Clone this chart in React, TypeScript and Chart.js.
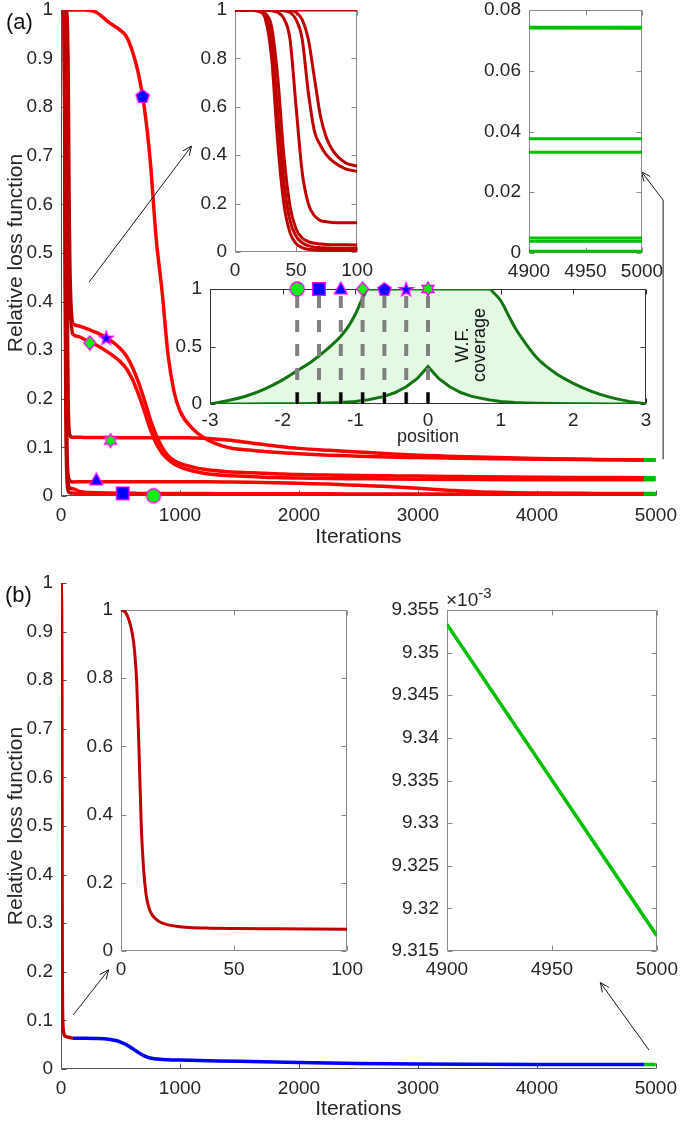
import React, { useEffect, useRef } from "react";
import { Chart, registerables } from "chart.js";

Chart.register(...registerables);

const FONT = "'Liberation Sans', Arial, Helvetica, sans-serif";
const TXT = "#262626";
const RED = "#ff0000";
const DARK_RED = "#bf0000";
const GREEN = "#00bf00";
const BLUE = "#0000ff";
const MK_GREEN = "#00ff00";
const MK_BLUE = "#0000ff";
const COV_LINE = "#127512";
const COV_FILL = "#e4f8e4";
const TICK_SIZE = 19;
const TITLE_SIZE = 21;

// ---------- Panel (a): seven runs ----------
const ITER_EARLY = [0, 10, 20, 25, 30, 35, 40, 45, 50, 55, 60, 65, 70, 75, 80, 90, 100];
const ITER_LATE = [100, 150, 200, 250, 300, 400, 500, 550, 600, 650, 700, 750, 800, 850, 900, 950, 1000, 1100, 1200, 1400, 1600, 1800, 2000, 2250, 2500, 2750, 3000, 3250, 3500, 4000, 4500, 4900];
const ITER_TAIL = [4900, 5000];

const P_EARLY = [1, 1, 1, 1, 1, 1, 1, 1, 1, 1, 1, 1, 1, 1, 1, 1, 1];
const H_EARLY = [1, 1, 1, 0.999, 0.997, 0.99, 0.965, 0.88, 0.6, 0.33, 0.2, 0.15, 0.13, 0.125, 0.122, 0.121, 0.121];
const S_EARLY = [1, 1, 1, 1, 1, 1, 1, 0.998, 0.99, 0.96, 0.88, 0.72, 0.56, 0.47, 0.42, 0.37, 0.355];
const D_EARLY = [1, 1, 1, 1, 1, 0.999, 0.997, 0.99, 0.96, 0.88, 0.66, 0.5, 0.44, 0.4, 0.375, 0.345, 0.333];
const T_EARLY = [1, 1, 0.998, 0.985, 0.93, 0.72, 0.4, 0.19, 0.095, 0.058, 0.043, 0.036, 0.033, 0.031, 0.03, 0.0295, 0.029];
const SQ_EARLY = [1, 1, 0.996, 0.975, 0.87, 0.58, 0.29, 0.13, 0.065, 0.038, 0.026, 0.02, 0.018, 0.017, 0.016, 0.015, 0.015];
const C_EARLY = [1, 1, 0.993, 0.96, 0.8, 0.45, 0.2, 0.08, 0.035, 0.018, 0.011, 0.008, 0.007, 0.0065, 0.0062, 0.006, 0.006];

const P_LATE = [1, 1, 1, 0.999, 0.995, 0.975, 0.958, 0.945, 0.915, 0.87, 0.8, 0.69, 0.53, 0.42, 0.29, 0.215, 0.175, 0.14, 0.12, 0.1, 0.094, 0.09, 0.087, 0.084, 0.082, 0.08, 0.079, 0.078, 0.077, 0.0755, 0.0748, 0.0743];
const H_LATE = [0.121, 0.1208, 0.1206, 0.1205, 0.1204, 0.1202, 0.12, 0.12, 0.12, 0.12, 0.12, 0.12, 0.12, 0.12, 0.12, 0.12, 0.12, 0.1195, 0.119, 0.115, 0.109, 0.103, 0.098, 0.094, 0.0905, 0.087, 0.084, 0.082, 0.08, 0.077, 0.0752, 0.0741];
const S_LATE = [0.355, 0.35, 0.346, 0.341, 0.336, 0.323, 0.303, 0.288, 0.265, 0.235, 0.198, 0.158, 0.125, 0.1, 0.083, 0.073, 0.067, 0.06, 0.055, 0.05, 0.048, 0.046, 0.044, 0.043, 0.042, 0.0415, 0.041, 0.0403, 0.0395, 0.0385, 0.038, 0.0376];
const D_LATE = [0.333, 0.328, 0.322, 0.316, 0.31, 0.295, 0.276, 0.262, 0.24, 0.21, 0.175, 0.138, 0.108, 0.088, 0.075, 0.066, 0.06, 0.052, 0.047, 0.042, 0.04, 0.038, 0.037, 0.036, 0.0355, 0.035, 0.0345, 0.034, 0.0337, 0.0335, 0.0333, 0.0332];
const T_LATE = [0.029, 0.0292, 0.0294, 0.0295, 0.0295, 0.0295, 0.0295, 0.0295, 0.0295, 0.0295, 0.0295, 0.0295, 0.0295, 0.0295, 0.0295, 0.0295, 0.0295, 0.0294, 0.0293, 0.029, 0.0285, 0.0275, 0.026, 0.0245, 0.022, 0.0195, 0.016, 0.012, 0.0085, 0.006, 0.0053, 0.00495];
const SQ_LATE = [0.015, 0.01, 0.008, 0.007, 0.0065, 0.006, 0.0057, 0.0056, 0.0055, 0.0054, 0.0053, 0.0052, 0.0052, 0.0051, 0.0051, 0.005, 0.005, 0.0049, 0.0049, 0.0048, 0.0047, 0.0046, 0.0045, 0.0044, 0.0043, 0.0043, 0.0042, 0.0041, 0.0041, 0.004, 0.0039, 0.00385];
const C_LATE = [0.006, 0.0035, 0.0025, 0.002, 0.0018, 0.0015, 0.0013, 0.0012, 0.0012, 0.0011, 0.0011, 0.001, 0.001, 0.001, 0.0009, 0.0009, 0.0009, 0.0008, 0.0008, 0.0008, 0.0007, 0.0007, 0.0007, 0.0006, 0.0006, 0.0006, 0.0006, 0.0006, 0.00055, 0.00055, 0.00055, 0.00055];

const P_TAIL = [0.0743, 0.0743];
const H_TAIL = [0.0741, 0.074];
const S_TAIL = [0.0376, 0.0376];
const D_TAIL = [0.0332, 0.0332];
const T_TAIL = [0.00495, 0.00495];
const SQ_TAIL = [0.00385, 0.00385];
const C_TAIL = [0.00055, 0.00055];

const MARK_A_ITER = [686, 380, 242, 417, 297, 519, 778];
const MARK_A_VAL = [0.823, 0.326, 0.315, 0.114, 0.033, 0.0055, 0.0006];
const MARK_A_SHAPE = ["pentagon", "star", "diamond", "hexagram", "triangle", "square", "circle"];
const MARK_A_FILL = [MK_BLUE, MK_BLUE, MK_GREEN, MK_GREEN, MK_BLUE, MK_BLUE, MK_GREEN];

// ---------- coverage inset ----------
const COV_X = [-3, -2.75, -2.5, -2.25, -2, -1.8, -1.6, -1.4, -1.2, -1.1, -1, -0.9, -0.82, -0.6, -0.45, -0.3, -0.15, 0, 0.15, 0.3, 0.45, 0.6, 0.85, 0.9, 1, 1.1, 1.2, 1.35, 1.5, 1.75, 2, 2.25, 2.5, 2.75, 3];
const COV_OUTER = [0, 0.03, 0.07, 0.13, 0.21, 0.29, 0.37, 0.47, 0.59, 0.67, 0.78, 0.92, 1, 1, 1, 1, 1, 1, 1, 1, 1, 1, 1, 0.97, 0.9, 0.78, 0.66, 0.52, 0.4, 0.27, 0.18, 0.11, 0.06, 0.025, 0];
const COV_INNER = [0, 0.0005, 0.001, 0.0015, 0.002, 0.003, 0.005, 0.008, 0.013, 0.017, 0.022, 0.03, 0.037, 0.066, 0.1, 0.15, 0.22, 0.327, 0.22, 0.15, 0.1, 0.066, 0.034, 0.03, 0.022, 0.017, 0.013, 0.0095, 0.007, 0.004, 0.002, 0.0015, 0.001, 0.0005, 0];
const COV_MARK_POS = [-1.8, -1.5, -1.2, -0.9, -0.6, -0.3, 0];
const COV_MARK_SHAPE = ["circle", "square", "triangle", "diamond", "pentagon", "star", "hexagram"];
const COV_MARK_FILL = [MK_GREEN, MK_BLUE, MK_BLUE, MK_GREEN, MK_BLUE, MK_BLUE, MK_GREEN];

// ---------- Panel (b) ----------
const B_EARLY_X = [0, 2, 4, 5, 6, 7, 8, 9, 10, 11, 12, 13, 15, 17, 20, 25, 30, 40, 50, 70, 100];
const B_EARLY_Y = [1, 0.993, 0.96, 0.93, 0.88, 0.78, 0.58, 0.36, 0.24, 0.17, 0.135, 0.115, 0.096, 0.086, 0.078, 0.072, 0.069, 0.067, 0.066, 0.065, 0.0635];
const B_LATE_X = [100, 200, 300, 400, 450, 500, 550, 600, 650, 700, 750, 800, 900, 1000, 1500, 2000, 2500, 3000, 3500, 4000, 4500, 4900];
const B_LATE_Y = [0.0635, 0.0632, 0.0627, 0.0612, 0.059, 0.0555, 0.05, 0.042, 0.034, 0.027, 0.0225, 0.0205, 0.019, 0.0183, 0.0158, 0.0132, 0.0112, 0.0101, 0.0097, 0.0095, 0.0094, 0.0093533];
const B_TAIL_X = [4900, 5000];
const B_TAIL_Y = [0.0093533, 0.0093168];

// ---------- ticks ----------
const MAIN_X_TICKS = [0, 1000, 2000, 3000, 4000, 5000];
const MAIN_X_LABELS = ["0", "1000", "2000", "3000", "4000", "5000"];
const MAIN_Y_TICKS = [0, 0.1, 0.2, 0.3, 0.4, 0.5, 0.6, 0.7, 0.8, 0.9, 1];
const MAIN_Y_LABELS = ["0", "0.1", "0.2", "0.3", "0.4", "0.5", "0.6", "0.7", "0.8", "0.9", "1"];
const EARLY_X_TICKS = [0, 50, 100];
const EARLY_X_LABELS = ["0", "50", "100"];
const UNIT_Y_TICKS = [0, 0.2, 0.4, 0.6, 0.8, 1];
const UNIT_Y_LABELS = ["0", "0.2", "0.4", "0.6", "0.8", "1"];
const TAIL_X_TICKS = [4900, 4950, 5000];
const TAIL_X_LABELS = ["4900", "4950", "5000"];
const A_TAIL_Y_TICKS = [0, 0.02, 0.04, 0.06, 0.08];
const A_TAIL_Y_LABELS = ["0", "0.02", "0.04", "0.06", "0.08"];
const COV_X_TICKS = [-3, -2, -1, 0, 1, 2, 3];
const COV_X_LABELS = ["-3", "-2", "-1", "0", "1", "2", "3"];
const COV_Y_TICKS = [0, 0.5, 1];
const COV_Y_LABELS = ["0", "0.5", "1"];
const B_TAIL_Y_TICKS = [0.009315, 0.00932, 0.009325, 0.00933, 0.009335, 0.00934, 0.009345, 0.00935, 0.009355];
const B_TAIL_Y_LABELS = ["9.315", "9.32", "9.325", "9.33", "9.335", "9.34", "9.345", "9.35", "9.355"];

// ---------- arrows (data coordinates of the host axes) ----------
const ARROW_A1 = [[236, 0.44], [1097, 0.72]];
const ARROW_A2 = [[5061, 0.0755], [5061, 0.609], [4880, 0.667]];
const ARROW_B1 = [[102, 0.111], [400, 0.204]];
const ARROW_B2 = [[4942, 0.039], [4533, 0.178]];

type Rect = { left: number; top: number; w: number; h: number };
type Area = { l: number; t: number; r: number; b: number };
type AxisSpec = {
  min: number; max: number; ticks: number[]; labels: string[]; pad: number;
  title?: string; titleSize?: number; titlePad?: { top: number; bottom: number };
};

function axis(spec: AxisSpec, horizontal: boolean, size: number): any {
  return {
    type: "linear",
    min: spec.min,
    max: spec.max,
    afterBuildTicks: (s: any) => { s.ticks = spec.ticks.map((v) => ({ value: v })); },
    afterFit: (s: any) => { if (horizontal) s.height = size; else s.width = size; },
    ticks: {
      autoSkip: false, maxRotation: 0, minRotation: 0, padding: spec.pad, color: TXT,
      font: { family: FONT, size: TICK_SIZE },
      callback: (v: number) => {
        const i = spec.ticks.findIndex((t) => Math.abs(t - v) < 1e-12);
        return i >= 0 ? spec.labels[i] : "";
      },
    },
    grid: { display: false, drawTicks: false },
    border: { display: false },
    title: spec.title
      ? { display: true, text: spec.title, color: TXT, font: { family: FONT, size: spec.titleSize || TITLE_SIZE }, padding: spec.titlePad || { top: 0, bottom: 0 } }
      : { display: false },
  };
}

function axesPlugin(box: boolean, color: string, len = 5) {
  return {
    id: "matAxes",
    beforeDatasetsDraw(chart: any) {
      const { ctx, chartArea: a } = chart;
      const xs = chart.scales.x, ys = chart.scales.y;
      const L = Math.round(a.left) + 0.5, R = Math.round(a.right) - 0.5;
      const T = Math.round(a.top) + 0.5, B = Math.round(a.bottom) - 0.5;
      ctx.save();
      ctx.strokeStyle = color;
      ctx.lineWidth = 1;
      ctx.beginPath();
      ctx.moveTo(L, T); ctx.lineTo(L, B); ctx.lineTo(R, B);
      if (box) { ctx.lineTo(R, T); ctx.lineTo(L, T); }
      for (const t of xs.ticks) {
        const px = Math.round(xs.getPixelForValue(t.value)) + 0.5;
        ctx.moveTo(px, B); ctx.lineTo(px, B - len);
        if (box) { ctx.moveTo(px, T); ctx.lineTo(px, T + len); }
      }
      for (const t of ys.ticks) {
        const py = Math.round(ys.getPixelForValue(t.value)) + 0.5;
        ctx.moveTo(L, py); ctx.lineTo(L + len, py);
        if (box) { ctx.moveTo(R, py); ctx.lineTo(R - len, py); }
      }
      ctx.stroke();
      ctx.restore();
    },
  };
}

function arrowsPlugin(list: number[][][]) {
  return {
    id: "arrows",
    afterDraw(chart: any) {
      if (!list.length) return;
      const { ctx } = chart;
      const xs = chart.scales.x, ys = chart.scales.y;
      ctx.save();
      ctx.strokeStyle = "#1a1a1a";
      ctx.lineWidth = 1;
      for (const pts of list) {
        const p = pts.map(([x, y]) => [xs.getPixelForValue(x), ys.getPixelForValue(y)]);
        ctx.beginPath();
        ctx.moveTo(p[0][0], p[0][1]);
        for (let i = 1; i < p.length; i++) ctx.lineTo(p[i][0], p[i][1]);
        ctx.stroke();
        const [x1, y1] = p[p.length - 2];
        const [x2, y2] = p[p.length - 1];
        const ang = Math.atan2(y2 - y1, x2 - x1);
        const Lh = 10, sp = 0.42;
        ctx.beginPath();
        ctx.moveTo(x2 - Lh * Math.cos(ang - sp), y2 - Lh * Math.sin(ang - sp));
        ctx.lineTo(x2, y2);
        ctx.lineTo(x2 - Lh * Math.cos(ang + sp), y2 - Lh * Math.sin(ang + sp));
        ctx.stroke();
      }
      ctx.restore();
    },
  };
}

function markerCanvas(shape: string, fill: string, size = 14) {
  const pad = 2;
  const S = size + pad * 2;
  const c = document.createElement("canvas");
  c.width = S; c.height = S;
  const g = c.getContext("2d")!;
  const cx = S / 2, cy = S / 2, r = size / 2;
  const star = (n: number, ro: number, ri: number, oy = 0) => {
    for (let k = 0; k < n * 2; k++) {
      const ang = -Math.PI / 2 + (k * Math.PI) / n;
      const rr = k % 2 === 0 ? ro : ri;
      const x = cx + rr * Math.cos(ang), y = cy + oy + rr * Math.sin(ang);
      if (k === 0) g.moveTo(x, y); else g.lineTo(x, y);
    }
  };
  g.beginPath();
  if (shape === "circle") g.arc(cx, cy, r, 0, Math.PI * 2);
  else if (shape === "square") g.rect(cx - r * 0.9, cy - r * 0.9, r * 1.8, r * 1.8);
  else if (shape === "triangle") { g.moveTo(cx, cy - r); g.lineTo(cx + r * 0.92, cy + r * 0.7); g.lineTo(cx - r * 0.92, cy + r * 0.7); }
  else if (shape === "diamond") { g.moveTo(cx, cy - r); g.lineTo(cx + r * 0.85, cy); g.lineTo(cx, cy + r); g.lineTo(cx - r * 0.85, cy); }
  else if (shape === "pentagon") {
    for (let k = 0; k < 5; k++) {
      const ang = -Math.PI / 2 + (k * 2 * Math.PI) / 5;
      const x = cx + r * Math.cos(ang), y = cy + 0.8 + r * Math.sin(ang);
      if (k === 0) g.moveTo(x, y); else g.lineTo(x, y);
    }
  } else if (shape === "star") star(5, r * 1.05, r * 0.42, 0.8);
  else if (shape === "hexagram") star(6, r, r * 0.58);
  g.closePath();
  g.fillStyle = fill;
  g.fill();
  g.strokeStyle = "#ff00ff";
  g.lineWidth = 1.3;
  g.stroke();
  return c;
}

function joinPts(parts: [number[], number[]][]) {
  const out: { x: number; y: number }[] = [];
  parts.forEach(([xs, ys], k) => xs.forEach((x, i) => {
    if (k > 0 && i === 0) return;
    out.push({ x, y: ys[i] });
  }));
  return out;
}
const pts = (xs: number[], ys: number[]) => xs.map((x, i) => ({ x, y: ys[i] }));

const segColor = (early: string, mid: string) => (ctx: any) => {
  const x = ctx.p0.parsed.x;
  return x >= 4900 ? GREEN : x < 100 ? early : mid;
};

function makeChart(canvas: HTMLCanvasElement, rect: Rect, area: Area, cfg: {
  datasets: any[]; x: AxisSpec; y: AxisSpec; box: boolean; boxColor: string; arrows?: number[][][];
}) {
  const padding = { left: 0, top: area.t - rect.top, right: rect.left + rect.w - area.r, bottom: 0 };
  const yWidth = area.l - rect.left;
  const xHeight = rect.top + rect.h - area.b;
  return new Chart(canvas, {
    type: "line",
    data: { datasets: cfg.datasets },
    options: {
      responsive: false,
      maintainAspectRatio: false,
      animation: false,
      events: [],
      layout: { padding },
      plugins: { legend: { display: false }, tooltip: { enabled: false } },
      scales: { x: axis(cfg.x, true, xHeight), y: axis(cfg.y, false, yWidth) },
    } as any,
    plugins: [axesPlugin(cfg.box, cfg.boxColor), arrowsPlugin(cfg.arrows || [])] as any,
  });
}

const RUNS: { early: number[]; late: number[]; tail: number[] }[] = [
  { early: P_EARLY, late: P_LATE, tail: P_TAIL },
  { early: H_EARLY, late: H_LATE, tail: H_TAIL },
  { early: S_EARLY, late: S_LATE, tail: S_TAIL },
  { early: D_EARLY, late: D_LATE, tail: D_TAIL },
  { early: T_EARLY, late: T_LATE, tail: T_TAIL },
  { early: SQ_EARLY, late: SQ_LATE, tail: SQ_TAIL },
  { early: C_EARLY, late: C_LATE, tail: C_TAIL },
];

const lineDs = (data: any, color: string, width: number, extra: any = {}) => ({
  data, borderColor: color, borderWidth: width, pointRadius: 0, fill: false,
  cubicInterpolationMode: "monotone", order: 5, ...extra,
});

// ---------- chart makers ----------
const R_MAIN_A: Rect = { left: 0, top: -20, w: 685, h: 580 };
const A_MAIN_A: Area = { l: 61, t: 10, r: 661, b: 496 };
function makeMainA(c: HTMLCanvasElement) {
  const ds: any[] = RUNS.map((r) => lineDs(
    joinPts([[ITER_EARLY, r.early], [ITER_LATE, r.late], [ITER_TAIL, r.tail]]),
    RED, 3.5, { segment: { borderColor: segColor(DARK_RED, RED) } }));
  ds.push({
    type: "scatter", data: pts(MARK_A_ITER, MARK_A_VAL), showLine: false, clip: false, order: 0,
    pointRadius: 7, pointStyle: MARK_A_SHAPE.map((s, i) => markerCanvas(s, MARK_A_FILL[i], 14)),
  });
  return makeChart(c, R_MAIN_A, A_MAIN_A, {
    datasets: ds,
    x: { min: 0, max: 5000, ticks: MAIN_X_TICKS, labels: MAIN_X_LABELS, pad: 8, title: "Iterations", titlePad: { top: 0, bottom: 10 } },
    y: { min: 0, max: 1, ticks: MAIN_Y_TICKS, labels: MAIN_Y_LABELS, pad: 8, title: "Relative loss function", titlePad: { top: 4, bottom: 0 } },
    box: false, boxColor: "#555", arrows: [ARROW_A1, ARROW_A2],
  });
}

const R_IN1_A: Rect = { left: 180, top: -15, w: 200, h: 300 };
const A_IN1_A: Area = { l: 235, t: 10, r: 363, b: 252 };
function makeIn1A(c: HTMLCanvasElement) {
  return makeChart(c, R_IN1_A, A_IN1_A, {
    datasets: RUNS.map((r) => lineDs(pts(ITER_EARLY, r.early), DARK_RED, 3)),
    x: { min: 0, max: 100, ticks: EARLY_X_TICKS, labels: EARLY_X_LABELS, pad: 7 },
    y: { min: 0, max: 1, ticks: UNIT_Y_TICKS, labels: UNIT_Y_LABELS, pad: 8 },
    box: true, boxColor: "#8a8a8a",
  });
}

const R_IN2_A: Rect = { left: 470, top: -15, w: 205, h: 300 };
const A_IN2_A: Area = { l: 529, t: 10, r: 642, b: 253 };
function makeIn2A(c: HTMLCanvasElement) {
  return makeChart(c, R_IN2_A, A_IN2_A, {
    datasets: RUNS.map((r) => lineDs(pts(ITER_TAIL, r.tail), GREEN, 3, { cubicInterpolationMode: "default" })),
    x: { min: 4900, max: 5000, ticks: TAIL_X_TICKS, labels: TAIL_X_LABELS, pad: 7 },
    y: { min: 0, max: 0.08, ticks: A_TAIL_Y_TICKS, labels: A_TAIL_Y_LABELS, pad: 8 },
    box: true, boxColor: "#8a8a8a",
  });
}

const R_COV: Rect = { left: 150, top: 265, w: 510, h: 185 };
const A_COV: Area = { l: 210, t: 289, r: 646, b: 404 };
function makeCov(c: HTMLCanvasElement) {
  const ds: any[] = [
    { data: pts(COV_X, COV_OUTER), borderColor: COV_LINE, borderWidth: 3, pointRadius: 0, cubicInterpolationMode: "monotone", fill: 1, backgroundColor: COV_FILL, order: 20 },
    { data: pts(COV_X, COV_INNER), borderColor: COV_LINE, borderWidth: 3, pointRadius: 0, tension: 0, fill: false, order: 19 },
  ];
  COV_MARK_POS.forEach((p) => ds.push({
    data: [{ x: p, y: 0 }, { x: p, y: 1 }], borderColor: "#808080", borderWidth: 4, borderDash: [12, 12],
    borderCapStyle: "butt", pointRadius: 0, fill: false, order: 10,
  }));
  COV_MARK_POS.forEach((p) => ds.push({
    data: [{ x: p, y: 0 }, { x: p, y: 0.1 }], borderColor: "#000000", borderWidth: 3,
    borderCapStyle: "butt", pointRadius: 0, fill: false, order: 9,
  }));
  ds.push({
    type: "scatter", data: COV_MARK_POS.map((p) => ({ x: p, y: 1 })), showLine: false, clip: false, order: 0,
    pointRadius: 7, pointStyle: COV_MARK_SHAPE.map((s, i) => markerCanvas(s, COV_MARK_FILL[i], 14)),
  });
  return makeChart(c, R_COV, A_COV, {
    datasets: ds,
    x: { min: -3, max: 3, ticks: COV_X_TICKS, labels: COV_X_LABELS, pad: 5, title: "position", titleSize: 18, titlePad: { top: 0, bottom: 2 } },
    y: { min: 0, max: 1, ticks: COV_Y_TICKS, labels: COV_Y_LABELS, pad: 8 },
    box: true, boxColor: "#333",
  });
}

const R_MAIN_B: Rect = { left: 0, top: 560, w: 685, h: 562 };
const A_MAIN_B: Area = { l: 61, t: 583, r: 661, b: 1069 };
function makeMainB(c: HTMLCanvasElement) {
  return makeChart(c, R_MAIN_B, A_MAIN_B, {
    datasets: [lineDs(joinPts([[B_EARLY_X, B_EARLY_Y], [B_LATE_X, B_LATE_Y], [B_TAIL_X, B_TAIL_Y]]), BLUE, 3.5,
      { segment: { borderColor: segColor(DARK_RED, BLUE) } })],
    x: { min: 0, max: 5000, ticks: MAIN_X_TICKS, labels: MAIN_X_LABELS, pad: 8, title: "Iterations", titlePad: { top: 0, bottom: 0 } },
    y: { min: 0, max: 1, ticks: MAIN_Y_TICKS, labels: MAIN_Y_LABELS, pad: 8, title: "Relative loss function", titlePad: { top: 4, bottom: 0 } },
    box: false, boxColor: "#555", arrows: [ARROW_B1, ARROW_B2],
  });
}

const R_IN1_B: Rect = { left: 60, top: 590, w: 310, h: 400 };
const A_IN1_B: Area = { l: 121, t: 610, r: 352, b: 951 };
function makeIn1B(c: HTMLCanvasElement) {
  return makeChart(c, R_IN1_B, A_IN1_B, {
    datasets: [lineDs(pts(B_EARLY_X, B_EARLY_Y), DARK_RED, 3)],
    x: { min: 0, max: 100, ticks: EARLY_X_TICKS, labels: EARLY_X_LABELS, pad: 7 },
    y: { min: 0, max: 1, ticks: UNIT_Y_TICKS, labels: UNIT_Y_LABELS, pad: 8 },
    box: true, boxColor: "#8a8a8a",
  });
}

const R_IN2_B: Rect = { left: 380, top: 590, w: 305, h: 400 };
const A_IN2_B: Area = { l: 447, t: 610, r: 662, b: 951 };
function makeIn2B(c: HTMLCanvasElement) {
  return makeChart(c, R_IN2_B, A_IN2_B, {
    datasets: [lineDs(pts(B_TAIL_X, B_TAIL_Y), GREEN, 3.5, { cubicInterpolationMode: "default" })],
    x: { min: 4900, max: 5000, ticks: TAIL_X_TICKS, labels: TAIL_X_LABELS, pad: 7 },
    y: { min: 0.009315, max: 0.009355, ticks: B_TAIL_Y_TICKS, labels: B_TAIL_Y_LABELS, pad: 8 },
    box: true, boxColor: "#8a8a8a",
  });
}

function ChartBox({ rect, make }: { rect: Rect; make: (c: HTMLCanvasElement) => Chart }) {
  const ref = useRef<HTMLCanvasElement>(null);
  useEffect(() => {
    const ch = make(ref.current!);
    return () => ch.destroy();
  }, []);
  return (
    <canvas ref={ref} width={rect.w} height={rect.h}
      style={{ position: "absolute", left: rect.left, top: rect.top, width: rect.w, height: rect.h }} />
  );
}

export default function App() {
  return (
    <div style={{ position: "absolute", left: 0, top: 0, width: 685, height: 1122, overflow: "hidden", background: "#fff", fontFamily: FONT }}>
      <ChartBox rect={R_MAIN_A} make={makeMainA} />
      <ChartBox rect={R_IN1_A} make={makeIn1A} />
      <ChartBox rect={R_IN2_A} make={makeIn2A} />
      <ChartBox rect={R_COV} make={makeCov} />
      <ChartBox rect={R_MAIN_B} make={makeMainB} />
      <ChartBox rect={R_IN1_B} make={makeIn1B} />
      <ChartBox rect={R_IN2_B} make={makeIn2B} />
      <div style={{ position: "absolute", left: 6, top: 11, fontSize: 22, lineHeight: "22px", color: "#111" }}>(a)</div>
      <div style={{ position: "absolute", left: 5, top: 584, fontSize: 22, lineHeight: "22px", color: "#111" }}>(b)</div>
      <div style={{ position: "absolute", left: 471, top: 345, transform: "translate(-50%,-50%) rotate(-90deg)", fontSize: 18, lineHeight: "17px", textAlign: "center", whiteSpace: "nowrap", color: "#111" }}>
        W.F.<br />coverage
      </div>
      <div style={{ position: "absolute", left: 446, top: 590, fontSize: 19, lineHeight: "19px", color: TXT, whiteSpace: "nowrap" }}>
        ×10<span style={{ position: "relative", top: -8, fontSize: 15 }}>-3</span>
      </div>
    </div>
  );
}
